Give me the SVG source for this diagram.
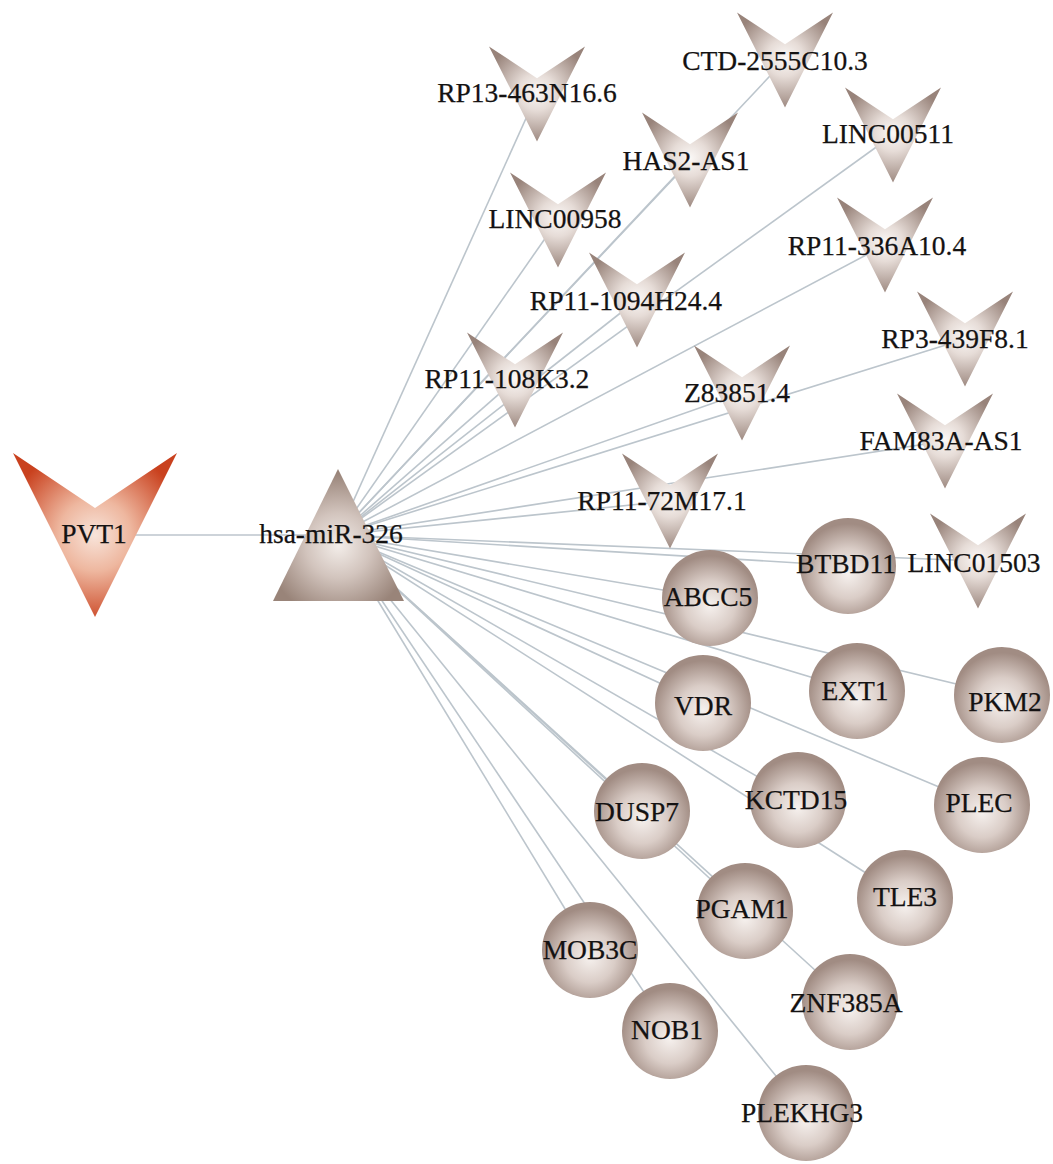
<svg xmlns="http://www.w3.org/2000/svg" xmlns:xlink="http://www.w3.org/1999/xlink" width="1053" height="1164" viewBox="0 0 1053 1164">
  <defs>
    <style>
      .edge { stroke: #bcc5cc; stroke-width: 1.6; fill: none; }
      .lbl { font-family: "Liberation Serif", "Times New Roman", serif; font-size: 27.5px; fill: #141212; stroke: #141212; stroke-width: 0.25; text-anchor: middle; }
      .vnode { fill: url(#gV); }
      .cnode { fill: url(#gC); }
    </style>
    <!-- grey lncRNA chevron fill -->
    <radialGradient id="gV" cx="50%" cy="48%" r="55%">
      <stop offset="0" stop-color="#fbf8f6"/>
      <stop offset="0.35" stop-color="#e6dcd7"/>
      <stop offset="1" stop-color="#98837a"/>
    </radialGradient>
    <!-- orange chevron fill for PVT1 -->
    <radialGradient id="gP" cx="50%" cy="50%" r="55%">
      <stop offset="0" stop-color="#f8e4da"/>
      <stop offset="0.4" stop-color="#eeb79f"/>
      <stop offset="1" stop-color="#c9411e"/>
    </radialGradient>
    <!-- mRNA sphere fill -->
    <radialGradient id="gC" cx="50%" cy="58%" r="52%">
      <stop offset="0" stop-color="#f6f1ee"/>
      <stop offset="0.5" stop-color="#dacdc7"/>
      <stop offset="1" stop-color="#a18c83"/>
    </radialGradient>
    <!-- miRNA triangle fill -->
    <radialGradient id="gT" cx="50%" cy="58%" r="55%">
      <stop offset="0" stop-color="#f3ede9"/>
      <stop offset="0.45" stop-color="#d2c4bd"/>
      <stop offset="1" stop-color="#998479"/>
    </radialGradient>
    <!-- chevron shape centred on its own origin, 96 x 95 -->
    <path id="vee" d="M-48,-47.5 L0,-15.8 L48,-47.5 L0,47.5 Z"/>
  </defs>

  <rect width="1053" height="1164" fill="#ffffff"/>

  <g id="connectors">
    <line class="edge" x1="95" y1="535" x2="338" y2="535"/>
    <line class="edge" x1="338" y1="535" x2="537" y2="94"/>
    <line class="edge" x1="338" y1="535" x2="785" y2="60"/>
    <line class="edge" x1="338" y1="535" x2="690" y2="160"/>
    <line class="edge" x1="338" y1="535" x2="893" y2="135"/>
    <line class="edge" x1="338" y1="535" x2="558" y2="220"/>
    <line class="edge" x1="338" y1="535" x2="637" y2="300"/>
    <line class="edge" x1="338" y1="535" x2="885" y2="245"/>
    <line class="edge" x1="338" y1="535" x2="965" y2="339"/>
    <line class="edge" x1="338" y1="535" x2="515" y2="380"/>
    <line class="edge" x1="338" y1="535" x2="742" y2="393"/>
    <line class="edge" x1="338" y1="535" x2="945" y2="441"/>
    <line class="edge" x1="338" y1="535" x2="670" y2="501"/>
    <line class="edge" x1="338" y1="535" x2="978" y2="561"/>
    <line class="edge" x1="338" y1="535" x2="848" y2="566"/>
    <line class="edge" x1="338" y1="535" x2="710" y2="598"/>
    <line class="edge" x1="338" y1="535" x2="857" y2="691"/>
    <line class="edge" x1="338" y1="535" x2="1002" y2="695"/>
    <line class="edge" x1="338" y1="535" x2="703" y2="703"/>
    <line class="edge" x1="338" y1="535" x2="642" y2="811"/>
    <line class="edge" x1="338" y1="535" x2="798" y2="800"/>
    <line class="edge" x1="338" y1="535" x2="982" y2="805"/>
    <line class="edge" x1="338" y1="535" x2="745" y2="911"/>
    <line class="edge" x1="338" y1="535" x2="905" y2="898"/>
    <line class="edge" x1="338" y1="535" x2="590" y2="950"/>
    <line class="edge" x1="338" y1="535" x2="670" y2="1031"/>
    <line class="edge" x1="338" y1="535" x2="850" y2="1002"/>
    <line class="edge" x1="338" y1="535" x2="806" y2="1113"/>
  </g>

  <g id="nodes">
    <g id="PVT1">
      <path d="M13,453 L95,508 L177,453 L95,617 Z" fill="url(#gP)"/>
      <text class="lbl" x="94" y="543">PVT1</text>
    </g>
    <g id="hsa-miR-326">
      <path d="M338,469 L404,601 L273,601 Z" fill="url(#gT)"/>
      <text class="lbl" x="331" y="543">hsa-miR-326</text>
    </g>

    <g id="RP13-463N16.6"><use xlink:href="#vee" class="vnode" x="537" y="94"/><text class="lbl" x="527" y="102">RP13-463N16.6</text></g>
    <g id="CTD-2555C10.3"><use xlink:href="#vee" class="vnode" x="785" y="60"/><text class="lbl" x="775" y="70">CTD-2555C10.3</text></g>
    <g id="HAS2-AS1"><use xlink:href="#vee" class="vnode" x="690" y="160"/><text class="lbl" x="686" y="170">HAS2-AS1</text></g>
    <g id="LINC00511"><use xlink:href="#vee" class="vnode" x="893" y="135"/><text class="lbl" x="888" y="143">LINC00511</text></g>
    <g id="LINC00958"><use xlink:href="#vee" class="vnode" x="558" y="220"/><text class="lbl" x="555" y="228">LINC00958</text></g>
    <g id="RP11-1094H24.4"><use xlink:href="#vee" class="vnode" x="637" y="300"/><text class="lbl" x="626" y="310">RP11-1094H24.4</text></g>
    <g id="RP11-336A10.4"><use xlink:href="#vee" class="vnode" x="885" y="245"/><text class="lbl" x="877" y="255">RP11-336A10.4</text></g>
    <g id="RP3-439F8.1"><use xlink:href="#vee" class="vnode" x="965" y="339"/><text class="lbl" x="955" y="348">RP3-439F8.1</text></g>
    <g id="RP11-108K3.2"><use xlink:href="#vee" class="vnode" x="515" y="380"/><text class="lbl" x="507" y="388">RP11-108K3.2</text></g>
    <g id="Z83851.4"><use xlink:href="#vee" class="vnode" x="742" y="393"/><text class="lbl" x="737" y="402">Z83851.4</text></g>
    <g id="FAM83A-AS1"><use xlink:href="#vee" class="vnode" x="945" y="441"/><text class="lbl" x="941" y="450">FAM83A-AS1</text></g>
    <g id="RP11-72M17.1"><use xlink:href="#vee" class="vnode" x="670" y="501"/><text class="lbl" x="662" y="510">RP11-72M17.1</text></g>
    <g id="LINC01503"><use xlink:href="#vee" class="vnode" x="978" y="561"/><text class="lbl" x="974" y="572">LINC01503</text></g>

    <g id="BTBD11"><circle class="cnode" cx="848" cy="566" r="48"/><text class="lbl" x="846" y="573">BTBD11</text></g>
    <g id="ABCC5"><circle class="cnode" cx="710" cy="598" r="48"/><text class="lbl" x="708" y="606">ABCC5</text></g>
    <g id="EXT1"><circle class="cnode" cx="857" cy="691" r="48"/><text class="lbl" x="855" y="700">EXT1</text></g>
    <g id="PKM2"><circle class="cnode" cx="1002" cy="695" r="48"/><text class="lbl" x="1005" y="711">PKM2</text></g>
    <g id="VDR"><circle class="cnode" cx="703" cy="703" r="48"/><text class="lbl" x="703" y="715">VDR</text></g>
    <g id="DUSP7"><circle class="cnode" cx="642" cy="811" r="48"/><text class="lbl" x="637" y="821">DUSP7</text></g>
    <g id="KCTD15"><circle class="cnode" cx="798" cy="800" r="48"/><text class="lbl" x="796" y="809">KCTD15</text></g>
    <g id="PLEC"><circle class="cnode" cx="982" cy="805" r="48"/><text class="lbl" x="979" y="812">PLEC</text></g>
    <g id="PGAM1"><circle class="cnode" cx="745" cy="911" r="48"/><text class="lbl" x="742" y="918">PGAM1</text></g>
    <g id="TLE3"><circle class="cnode" cx="905" cy="898" r="48"/><text class="lbl" x="905" y="906">TLE3</text></g>
    <g id="MOB3C"><circle class="cnode" cx="590" cy="950" r="48"/><text class="lbl" x="590" y="959">MOB3C</text></g>
    <g id="NOB1"><circle class="cnode" cx="670" cy="1031" r="48"/><text class="lbl" x="667" y="1039">NOB1</text></g>
    <g id="ZNF385A"><circle class="cnode" cx="850" cy="1002" r="48"/><text class="lbl" x="846" y="1012">ZNF385A</text></g>
    <g id="PLEKHG3"><circle class="cnode" cx="806" cy="1113" r="48"/><text class="lbl" x="802" y="1122">PLEKHG3</text></g>
  </g>
</svg>
